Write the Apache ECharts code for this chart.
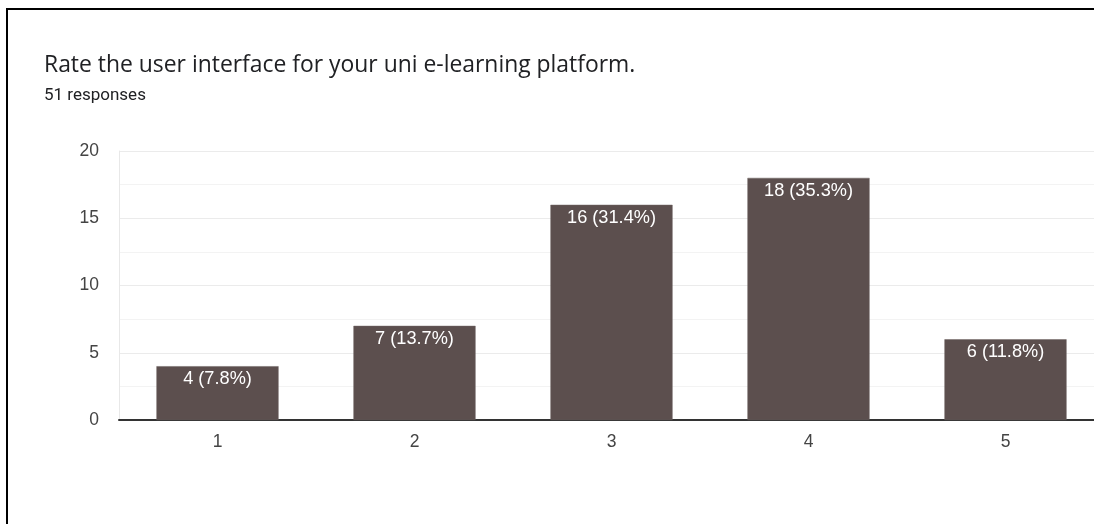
<!DOCTYPE html>
<html>
<head>
<meta charset="utf-8">
<script src="https://cdn.jsdelivr.net/npm/echarts@6/dist/echarts.min.js"></script>
<style>
  html, body { margin: 0; padding: 0; background: #fff; }
  #chart { position: absolute; left: 0; top: 0; width: 1094px; height: 524px; }
  #frame { position: absolute; left: 6px; top: 8px; width: 1100px; height: 530px;
           border-left: 2px solid #000; border-top: 2px solid #000; pointer-events: none; }
</style>
</head>
<body>
<div id="chart"></div>
<div id="frame"></div>
<script>
// Survey question and response counts per rating
const titleText = 'Rate the user interface for your uni e-learning platform.';
const subtitleText = '51 responses';
const categories = ['1', '2', '3', '4', '5'];
const counts = [4, 7, 16, 18, 6];
const totalResponses = 51;
const yTicks = [0, 5, 10, 15, 20];

const labelFont = 'Liberation Sans';
const chart = echarts.init(document.getElementById('chart'), null, { renderer: 'canvas' });

chart.setOption({
  animation: false,
  backgroundColor: '#fff',
  title: [
    {
      text: titleText,
      left: 44, top: 54, padding: 0,
      textStyle: { fontFamily: 'Open Sans', fontSize: 22.9, fontWeight: 'normal', color: '#202124' }
    },
    {
      text: subtitleText,
      left: 44, top: 87, padding: 0,
      textStyle: { fontFamily: 'Roboto', fontSize: 17, fontWeight: 'normal', color: '#202124' }
    }
  ],
  // the plot runs past the right edge of the canvas
  grid: { left: 119, top: 151, right: -10, bottom: 104, containLabel: false, outerBoundsMode: 'none' },
  xAxis: {
    type: 'category',
    data: categories,
    axisLine: { show: true, lineStyle: { color: '#333', width: 2 } },
    axisTick: { show: false },
    axisLabel: { color: '#444', fontFamily: labelFont, fontSize: 17.5, margin: 13 },
    splitLine: { show: false }
  },
  yAxis: {
    type: 'value',
    min: yTicks[0],
    max: yTicks[yTicks.length - 1],
    interval: 5,
    axisLine: { show: true, lineStyle: { color: '#e8e8e8', width: 1 } },
    axisTick: { show: false },
    axisLabel: { color: '#444', fontFamily: labelFont, fontSize: 17.5, margin: 20 },
    splitLine: { show: true, lineStyle: { color: '#ebebeb', width: 1 } },
    minorTick: { show: false, splitNumber: 2 },
    minorSplitLine: { show: true, lineStyle: { color: '#f3f3f3', width: 1 } }
  },
  series: [{
    type: 'bar',
    data: counts,
    barWidth: '62%',
    itemStyle: { color: '#5c4f4e', borderColor: '#6e6463', borderWidth: 0.5 },
    label: {
      show: true,
      position: 'insideTop',
      distance: 4,
      color: '#fff',
      fontFamily: labelFont,
      fontSize: 18.2,
      formatter: p => p.value + ' (' + (p.value / totalResponses * 100).toFixed(1) + '%)'
    }
  }]
});
</script>
</body>
</html>
